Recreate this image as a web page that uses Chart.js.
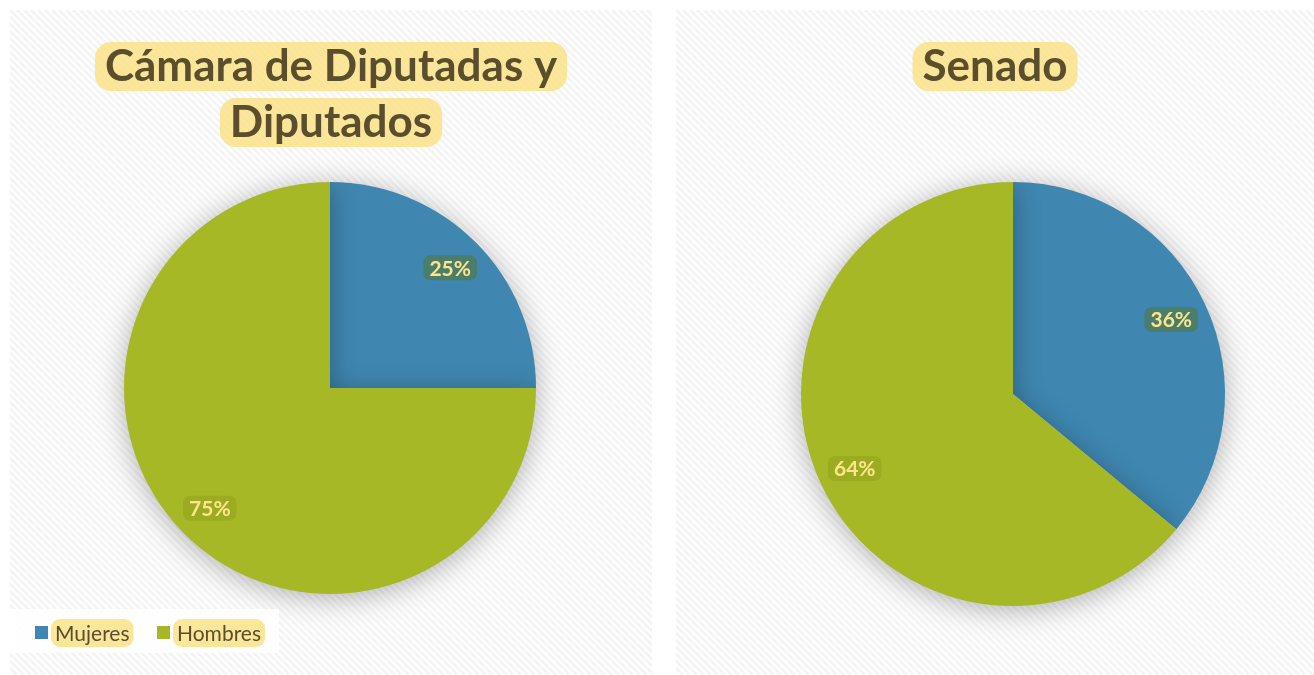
<!DOCTYPE html>
<html>
<head>
<meta charset="utf-8">
<script src="https://cdn.jsdelivr.net/npm/chart.js@4"></script>
<style>
  html, body { margin:0; padding:0; background:#fff; width:1314px; height:675px; overflow:hidden; }
  .panel { position:absolute; top:10px; height:665px; }
  #p1 { left:10px; width:642px; }
  #p2 { left:676px; width:638px; }
</style>
</head>
<body>
<div class="panel" id="p1"><canvas id="chart-camara"></canvas></div>
<div class="panel" id="p2"><canvas id="chart-senado"></canvas></div>
<script>
// datos
const categorias = ['Mujeres', 'Hombres'];
const camaraValores = [25, 75];
const senadoValores = [36, 64];
const tituloCamara = ['Cámara de Diputadas y', 'Diputados'];
const tituloSenado = ['Senado'];

const azul = '#3F87B1', verde = '#A7B826';
const cajaEtiqueta = ['#4A7E6B', '#9BAC20'];
const amarillo = 'rgba(250,224,130,0.82)';
const texto = '#5A4E2C';
const FONT = 'Lato, "Open Sans", sans-serif';

function pill(ctx, x, y, w, h, r) {
    ctx.beginPath();
    ctx.roundRect(x, y, w, h, r);
    ctx.fill();
}

// fondo rayado + sombra del pastel + titulo + etiquetas + leyenda
const decor = {
    id: 'decor',
    beforeDraw(chart, args, opts) {
        const ctx = chart.ctx, W = chart.width, H = chart.height;
        ctx.save();
        ctx.fillStyle = '#fff';
        ctx.fillRect(0, 0, W, H);
        ctx.strokeStyle = 'rgba(0,0,0,0.045)';
        ctx.lineWidth = 3;
        ctx.beginPath();
        for (let k = -H; k < W; k += 7) {
            ctx.moveTo(k, 0);
            ctx.lineTo(k + H, H);
        }
        ctx.stroke();

        // titulo
        ctx.font = 'bold ' + opts.titleSize + 'px ' + FONT;
        ctx.textAlign = 'center';
        ctx.textBaseline = 'alphabetic';
        opts.title.forEach((t, i) => {
            const y = opts.titleY + i * 56;
            const w = ctx.measureText(t).width;
            ctx.fillStyle = amarillo;
            pill(ctx, opts.titleX - w / 2 - 10, y - 39, w + 20, 49, 16);
            ctx.fillStyle = texto;
            ctx.fillText(t, opts.titleX, y);
        });
        ctx.restore();
    },
    beforeDatasetsDraw(chart) {
        const ctx = chart.ctx;
        ctx.save();
        ctx.shadowColor = 'rgba(0,0,0,0.3)';
        ctx.shadowBlur = 28;
        ctx.shadowOffsetX = 0;
        ctx.shadowOffsetY = 4;
    },
    afterDatasetsDraw(chart, args, opts) {
        const ctx = chart.ctx;
        ctx.restore();
        ctx.save();
        const meta = chart.getDatasetMeta(0);
        const vals = chart.data.datasets[0].data;
        ctx.font = 'bold 21px ' + FONT;
        ctx.textAlign = 'center';
        ctx.textBaseline = 'middle';
        meta.data.forEach((arc, i) => {
            const p = arc.getProps(['x', 'y', 'startAngle', 'endAngle', 'outerRadius'], true);
            const a = (p.startAngle + p.endAngle) / 2;
            const r = p.outerRadius * 0.825;
            const x = p.x + Math.cos(a) * r, y = p.y + Math.sin(a) * r;
            const s = vals[i] + '%';
            const w = ctx.measureText(s).width;
            ctx.fillStyle = cajaEtiqueta[i];
            pill(ctx, x - w / 2 - 6, y - 12.5, w + 12, 25, 7);
            ctx.fillStyle = '#FFE48C';
            ctx.fillText(s, x, y + 1);
        });

        if (opts.legend) {
            ctx.fillStyle = 'rgba(255,255,255,0.85)';
            ctx.fillRect(0, 599, 269, 44);
            ctx.font = '21px ' + FONT;
            ctx.textAlign = 'left';
            let x = 25;
            categorias.forEach((c, i) => {
                ctx.fillStyle = chart.data.datasets[0].backgroundColor[i];
                ctx.fillRect(x, 616, 13, 13);
                const w = ctx.measureText(c).width;
                ctx.fillStyle = amarillo;
                pill(ctx, x + 16, 609, w + 8, 28, 9);
                ctx.fillStyle = texto;
                ctx.fillText(c, x + 20, 624);
                x += 122;
            });
        }
        ctx.restore();
    }
};

function pastel(id, valores, titulo, padding, legend, titleX) {
    return new Chart(document.getElementById(id), {
        type: 'pie',
        data: {
            labels: categorias,
            datasets: [{ data: valores, backgroundColor: [azul, verde], borderWidth: 0 }]
        },
        options: {
            responsive: true,
            maintainAspectRatio: false,
            animation: false,
            layout: { padding: padding },
            plugins: {
                legend: { display: false },
                tooltip: { enabled: false },
                decor: { title: titulo, titleSize: 44, titleX: titleX, titleY: 71, legend: legend }
            }
        },
        plugins: [decor]
    });
}

pastel('chart-camara', camaraValores, tituloCamara, { top: 172, bottom: 81, left: 114, right: 116 }, true, 321);
pastel('chart-senado', senadoValores, tituloSenado, { top: 172, bottom: 69, left: 125, right: 89 }, false, 319);
</script>
</body>
</html>
